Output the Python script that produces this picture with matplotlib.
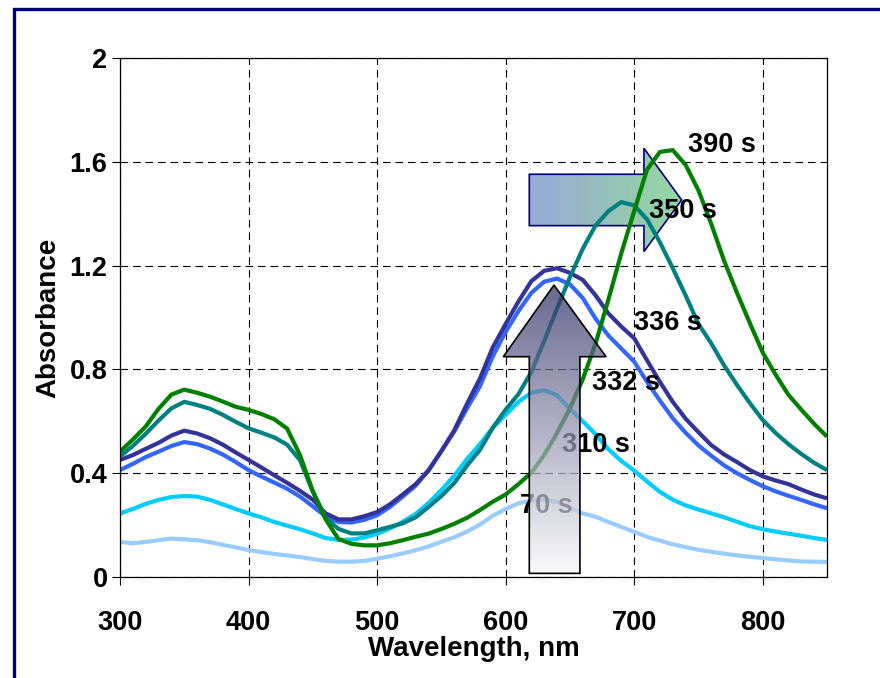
import numpy as np
import matplotlib
matplotlib.use("Agg")
import matplotlib.pyplot as plt
from matplotlib.patches import Polygon, Rectangle

plt.rcParams['font.family'] = ['Liberation Sans', 'DejaVu Sans']
plt.rcParams['font.weight'] = 'bold'
plt.rcParams['lines.scale_dashes'] = False

# Wavelength grid (nm)
wavelength = list(range(300, 860, 10))

# Absorbance spectra recorded at successive reaction times
abs_70s = [0.135, 0.130, 0.135, 0.142, 0.148, 0.145, 0.142, 0.134, 0.124, 0.114,
           0.104, 0.096, 0.089, 0.083, 0.077, 0.069, 0.062, 0.059, 0.059, 0.062,
           0.070, 0.080, 0.091, 0.103, 0.118, 0.136, 0.153, 0.175, 0.202, 0.236,
           0.262, 0.284, 0.295, 0.298, 0.290, 0.266, 0.245, 0.232, 0.212, 0.193,
           0.174, 0.155, 0.140, 0.126, 0.115, 0.105, 0.097, 0.090, 0.083, 0.078,
           0.073, 0.068, 0.064, 0.060, 0.059, 0.058]
abs_310s = [0.245, 0.262, 0.282, 0.297, 0.308, 0.312, 0.310, 0.297, 0.280, 0.262,
            0.245, 0.230, 0.212, 0.198, 0.184, 0.168, 0.150, 0.143, 0.144, 0.152,
            0.166, 0.187, 0.213, 0.243, 0.285, 0.335, 0.390, 0.455, 0.512, 0.575,
            0.625, 0.675, 0.710, 0.720, 0.700, 0.648, 0.600, 0.550, 0.492, 0.447,
            0.410, 0.368, 0.328, 0.298, 0.276, 0.260, 0.245, 0.230, 0.213, 0.196,
            0.184, 0.175, 0.167, 0.159, 0.150, 0.143]
abs_332s = [0.412, 0.436, 0.462, 0.483, 0.505, 0.520, 0.512, 0.495, 0.472, 0.443,
            0.412, 0.387, 0.364, 0.340, 0.310, 0.272, 0.234, 0.212, 0.210, 0.220,
            0.238, 0.270, 0.310, 0.352, 0.412, 0.485, 0.560, 0.650, 0.735, 0.850,
            0.945, 1.025, 1.095, 1.138, 1.150, 1.128, 1.075, 0.995, 0.930, 0.880,
            0.830, 0.752, 0.680, 0.612, 0.556, 0.507, 0.467, 0.430, 0.400, 0.374,
            0.350, 0.330, 0.313, 0.297, 0.280, 0.265]
abs_336s = [0.451, 0.470, 0.494, 0.517, 0.545, 0.564, 0.553, 0.535, 0.510, 0.480,
            0.451, 0.422, 0.392, 0.363, 0.332, 0.298, 0.245, 0.222, 0.222, 0.234,
            0.250, 0.280, 0.318, 0.358, 0.410, 0.485, 0.565, 0.668, 0.765, 0.885,
            0.975, 1.062, 1.140, 1.180, 1.190, 1.172, 1.145, 1.085, 1.015, 0.965,
            0.920, 0.835, 0.752, 0.675, 0.610, 0.558, 0.508, 0.472, 0.443, 0.412,
            0.388, 0.372, 0.358, 0.337, 0.318, 0.303]
abs_350s = [0.464, 0.505, 0.552, 0.603, 0.650, 0.675, 0.663, 0.648, 0.625, 0.598,
            0.573, 0.556, 0.538, 0.510, 0.450, 0.330, 0.228, 0.185, 0.168, 0.168,
            0.180, 0.193, 0.207, 0.230, 0.270, 0.312, 0.362, 0.430, 0.490, 0.575,
            0.645, 0.705, 0.790, 0.910, 1.035, 1.155, 1.265, 1.355, 1.410, 1.445,
            1.432, 1.378, 1.290, 1.190, 1.085, 0.975, 0.900, 0.815, 0.740, 0.670,
            0.605, 0.555, 0.512, 0.474, 0.440, 0.412]
abs_390s = [0.483, 0.530, 0.580, 0.648, 0.703, 0.722, 0.710, 0.695, 0.676, 0.656,
            0.644, 0.628, 0.608, 0.572, 0.470, 0.330, 0.222, 0.146, 0.128, 0.122,
            0.122, 0.130, 0.142, 0.155, 0.167, 0.185, 0.205, 0.228, 0.258, 0.290,
            0.318, 0.358, 0.402, 0.470, 0.555, 0.650, 0.762, 0.900, 1.070, 1.248,
            1.410, 1.570, 1.638, 1.645, 1.588, 1.490, 1.360, 1.218, 1.095, 0.978,
            0.865, 0.780, 0.702, 0.645, 0.590, 0.541]

series = [abs_70s, abs_310s, abs_332s, abs_336s, abs_350s, abs_390s]
colors = ['#99CCFF', '#00CCFF', '#3366FF', '#333399', '#008080', '#008000']

time_labels = ['70 s', '310 s', '332 s', '336 s', '350 s', '390 s']
label_pos = [(631.4, 0.247), (670.3, 0.482), (693.6, 0.720),
             (725.9, 0.952), (737.6, 1.385), (767.9, 1.638)]

x_ticks = [300, 400, 500, 600, 700, 800]
y_ticks = [0, 0.4, 0.8, 1.2, 1.6, 2]
y_ticklabels = ['0', '0.4', '0.8', '1.2', '1.6', '2']

W, H = 880, 678
fig = plt.figure(figsize=(W / 100, H / 100), dpi=100)
ax = fig.add_axes([120 / W, 1 - 577 / H, (827 - 120) / W, (577 - 58) / H])

for vals, c in zip(series, colors):
    ax.plot(wavelength, vals, color=c, lw=3.0, zorder=2,
            solid_joinstyle='round', solid_capstyle='butt')

ax.set_xlim(300, 850)
ax.set_ylim(0, 2)
ax.set_xticks(x_ticks)
ax.set_yticks(y_ticks)
ax.set_yticklabels(y_ticklabels)
ax.tick_params(axis='both', direction='out', length=6, width=0.8,
               labelsize=19.5, colors='black')
ax.tick_params(axis='x', pad=18)
ax.tick_params(axis='y', pad=3)
for s in ax.spines.values():
    s.set_linewidth(0.9)
    s.set_color('black')

ax.set_axisbelow(True)
ax.grid(True, color='black', lw=0.8, linestyle=(0, (5.5, 3.5)))

ax.set_xlabel('Wavelength, nm', fontsize=20, fontweight='bold', labelpad=0)
ax.set_ylabel('Absorbance', fontsize=20, fontweight='bold', labelpad=6)

for txt, (x, y) in zip(time_labels, label_pos):
    ax.text(x, y, txt, fontsize=19.5, fontweight='bold', ha='center',
            va='baseline', color='black', zorder=3)


def gradient_arrow(verts, c_start, c_end, horizontal, edgecolor, zorder, alpha):
    outline = Polygon(verts, closed=True, facecolor='none', edgecolor=edgecolor,
                      lw=1.2, zorder=zorder + 0.01, joinstyle='miter')
    ax.add_patch(outline)
    xs = [v[0] for v in verts]
    ys = [v[1] for v in verts]
    n = 256
    t = np.linspace(0, 1, n)[:, None]
    c0 = np.array(c_start) / 255.0
    c1 = np.array(c_end) / 255.0
    rgb = c0 + (c1 - c0) * t
    rgba = np.concatenate([rgb, np.ones((n, 1))], axis=1)
    img = rgba[None, :, :] if horizontal else rgba[:, None, :]
    im = ax.imshow(img, extent=[min(xs), max(xs), min(ys), max(ys)],
                   origin='lower', aspect='auto', zorder=zorder,
                   interpolation='bilinear', alpha=alpha)
    im.set_clip_path(outline)


# Red-shift arrow (horizontal), behind the spectra
right_arrow = [(618.4, 1.354), (707.6, 1.354), (707.6, 1.254), (736.9, 1.453),
               (707.6, 1.652), (707.6, 1.552), (618.4, 1.552)]
gradient_arrow(right_arrow, (150, 170, 215), (150, 215, 160), True,
               '#000080', 1.5, 1.0)

# Growth arrow (vertical), semi-transparent over the spectra
up_arrow = [(618.4, 0.014), (657.8, 0.014), (657.8, 0.849), (678.1, 0.849),
            (637.6, 1.125), (598.2, 0.849), (618.4, 0.849)]
gradient_arrow(up_arrow, (248, 248, 250), (45, 45, 100), False,
               'black', 4, 0.72)

ax.set_xlim(300, 850)
ax.set_ylim(0, 2)

# Navy frame around the figure
fig.patches.append(Rectangle((13.7 / W, -0.5), 2.0, 1.5 - 8.5 / H,
                             transform=fig.transFigure, fill=False,
                             edgecolor='#000080', lw=2.4, clip_on=False))

fig.savefig('out.png', dpi=100)
